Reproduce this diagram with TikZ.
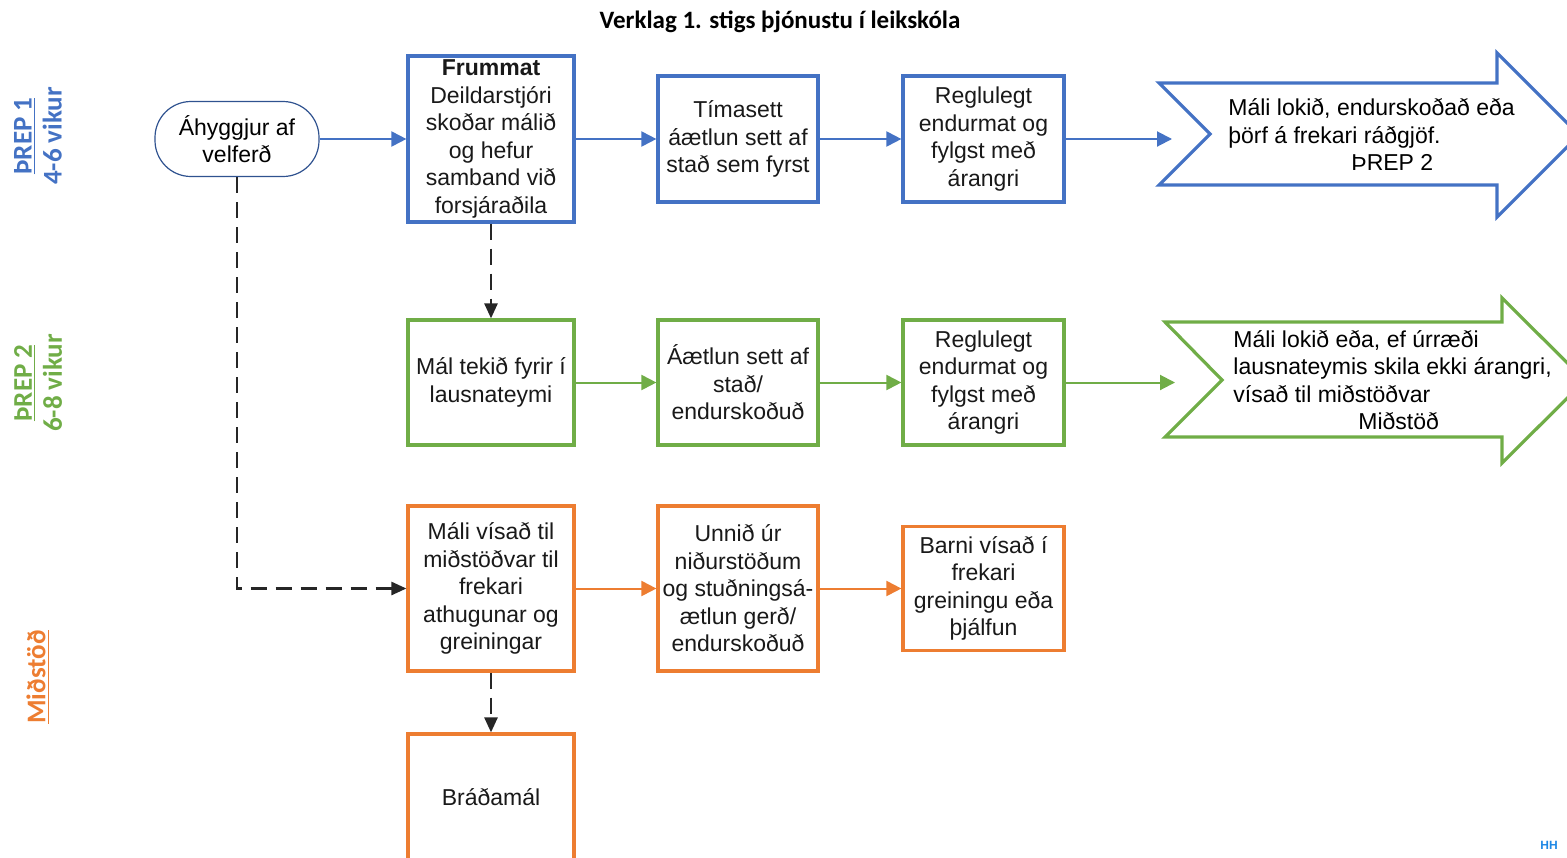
\documentclass[tikz,border=0pt]{standalone}
\usepackage{fontspec}
\setmainfont{Liberation Sans}
\newfontfamily\calibri{Carlito}
\usetikzlibrary{arrows.meta}

\definecolor{bluec}{RGB}{68,114,196}
\definecolor{greenc}{RGB}{112,173,71}
\definecolor{orangec}{RGB}{237,125,49}
\definecolor{navyc}{RGB}{47,82,143}
\definecolor{dashc}{RGB}{38,38,38}
\definecolor{logoc}{RGB}{30,136,229}

\begin{document}
\begin{tikzpicture}[x=0.5pt,y=-0.5pt]
      %styles for boxes and arrows
      \tikzset{
      stbox/.style={draw=#1, line width=1.6pt, fill=white, align=center, inner sep=1pt,
        font=\fontsize{11.5}{13.75}\selectfont, text=black!90},
      flow/.style={draw=#1, line width=1pt, -{Triangle[length=7.5pt,width=7.5pt]}},
      dashflow/.style={draw=dashc, line width=1.3pt, dash pattern=on 8pt off 4.5pt,
        -{Triangle[length=7.5pt,width=6.5pt]}},
      side/.style={rotate=90, align=center, text=#1,
        font=\calibri\bfseries\fontsize{13.5}{15}\selectfont},
      }
      \useasboundingbox (0,0) rectangle (1567,857);
      \clip (0,0) rectangle (1567,857);

      %title
      \node (title) at (780,22) {\calibri\bfseries\fontsize{12.5}{15}\selectfont Verklag 1. stigs þjónustu í leikskóla};

      %side labels
      \node[side=bluec] (lab1) at (38,136) {\underline{ÞREP 1}\\4-6 vikur};
      \node[side=greenc] (lab2) at (38,383) {\underline{ÞREP 2}\\6-8 vikur};
      \node[side=orangec] (lab3) at (38,677) {\underline{Miðstöð}};

      %Row 1 - ÞREP 1
      \node[draw=navyc, line width=0.6pt, rounded corners=18pt, minimum width=82pt, minimum height=37.5pt,
        align=center, inner sep=1pt, font=\fontsize{11.5}{13.75}\selectfont] (ahy) at (237,139) {Áhyggjur af\\velferð};
      \node[stbox=bluec, minimum width=83pt, minimum height=83pt] (frum) at (491,139)
        {\textbf{Frummat}\\Deildarstjóri\\skoðar málið\\og hefur\\samband við\\forsjáraðila};
      \node[stbox=bluec, minimum width=80pt, minimum height=63pt] (tima) at (738,139)
        {Tímasett\\áætlun sett af\\stað sem fyrst};
      \node[stbox=bluec, minimum width=80.5pt, minimum height=63pt] (regl1) at (983.5,139)
        {Reglulegt\\endurmat og\\fylgst með\\árangri};
      \coordinate (blueend) at (1172,139);
      \draw[bluec, line width=1.6pt, line join=miter] (1159,83) -- (1497,83) -- (1497,53) -- (1579,135)
        -- (1497,217) -- (1497,185) -- (1159,185) -- (1210,134) -- cycle;
      \node[anchor=west, align=left, inner sep=0pt, font=\fontsize{11.5}{13.75}\selectfont] (blueout) at (1228,134.5)
        {Máli lokið, endurskoðað eða\\þörf á frekari ráðgjöf.\\\hspace*{61.5pt}ÞREP 2};
      \draw[flow=bluec] (ahy) -- (frum);
      \draw[flow=bluec] (frum) -- (tima);
      \draw[flow=bluec] (tima) -- (regl1);
      \draw[flow=bluec] (regl1) -- (blueend);

      %Row 2 - ÞREP 2
      \node[stbox=greenc, minimum width=83pt, minimum height=62.5pt] (tekid) at (491,382.5)
        {Mál tekið fyrir í\\lausnateymi};
      \node[stbox=greenc, minimum width=80pt, minimum height=62.5pt] (aetl) at (738,382.5)
        {Áætlun sett af\\stað/\\endurskoðuð};
      \node[stbox=greenc, minimum width=80.5pt, minimum height=62.5pt] (regl2) at (983.5,382.5)
        {Reglulegt\\endurmat og\\fylgst með\\árangri};
      \coordinate (greenend) at (1175,382.5);
      \draw[greenc, line width=1.6pt, line join=miter] (1165,322) -- (1502,322) -- (1502,298) -- (1585,380.5)
        -- (1502,463) -- (1502,437) -- (1165,437) -- (1222,380) -- cycle;
      \node[anchor=west, align=left, inner sep=0pt, font=\fontsize{11.5}{13.75}\selectfont] (greenout) at (1233,380)
        {Máli lokið eða, ef úrræði\\lausnateymis skila ekki árangri,\\vísað til miðstöðvar\\\hspace*{62.5pt}Miðstöð};
      \draw[flow=greenc] (tekid) -- (aetl);
      \draw[flow=greenc] (aetl) -- (regl2);
      \draw[flow=greenc] (regl2) -- (greenend);

      %Row 3 - Miðstöð
      \node[stbox=orangec, minimum width=83pt, minimum height=82.5pt] (mvis) at (491,588.5)
        {Máli vísað til\\miðstöðvar til\\frekari\\athugunar og\\greiningar};
      \node[stbox=orangec, minimum width=80pt, minimum height=82.5pt] (unnid) at (738,588.5)
        {Unnið úr\\niðurstöðum\\og stuðningsá-\\ætlun gerð/\\endurskoðuð};
      \node[stbox=orangec, minimum width=80.5pt, minimum height=62pt] (barni) at (983.5,588.5)
        {Barni vísað í\\frekari\\greiningu eða\\þjálfun};
      \node[stbox=orangec, minimum width=83pt, minimum height=63pt] (brad) at (491,797) {Bráðamál};
      \draw[flow=orangec] (mvis) -- (unnid);
      \draw[flow=orangec] (unnid) -- (barni);

      %dashed links
      \draw[dashflow] (ahy.south) |- (mvis.west);
      \draw[dashflow] (frum.south) -- (tekid.north);
      \draw[dashflow] (mvis.south) -- (brad.north);

      %corner mark
      \node[text=logoc, font=\bfseries\fontsize{6}{7}\selectfont, inner sep=0pt] (logo) at (1549,845) {HH};
\end{tikzpicture}
\end{document}
